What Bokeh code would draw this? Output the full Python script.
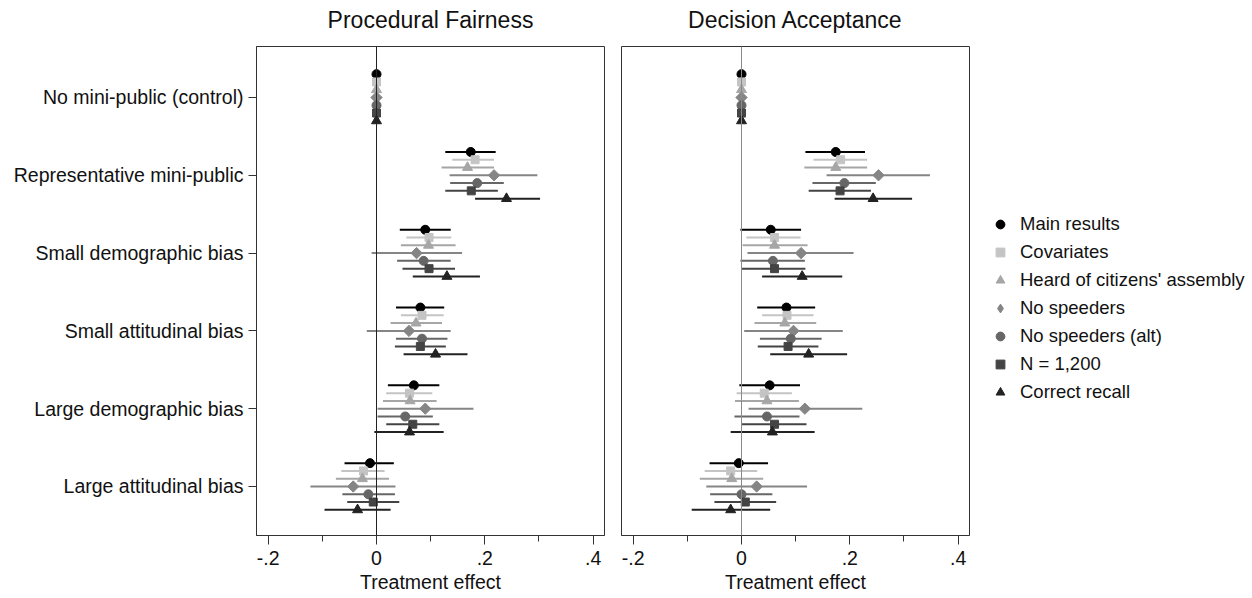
import math
from bokeh.plotting import figure
from bokeh.layouts import row
from bokeh.models import Range1d, FixedTicker, Span, Legend, LegendItem, Title
from bokeh.embed import file_html
from bokeh.resources import INLINE

# ---------------- data ----------------
categories = ["No mini-public (control)", "Representative mini-public",
              "Small demographic bias", "Small attitudinal bias",
              "Large demographic bias", "Large attitudinal bias"]
series = ["Main results", "Covariates", "Heard of citizens' assembly",
          "No speeders", "No speeders (alt)", "N = 1,200", "Correct recall"]
panel_titles = ["Procedural Fairness", "Decision Acceptance"]
x_ticks = [-0.2, 0.0, 0.2, 0.4]
x_tick_labels = ["-.2", "0", ".2", ".4"]
x_minor_ticks = [-0.1, 0.1, 0.3]

# Procedural fairness: rows = series, columns = categories
pf_est = [
    [0, 0.174, 0.090, 0.081, 0.069, -0.012],
    [0, 0.182, 0.097, 0.084, 0.061, -0.024],
    [0, 0.168, 0.096, 0.073, 0.062, -0.026],
    [0, 0.217, 0.074, 0.060, 0.090, -0.043],
    [0, 0.186, 0.087, 0.084, 0.053, -0.015],
    [0, 0.175, 0.097, 0.081, 0.067, -0.006],
    [0, 0.240, 0.130, 0.109, 0.061, -0.035],
]
pf_lo = [
    [0, 0.127, 0.043, 0.036, 0.021, -0.059],
    [0, 0.140, 0.055, 0.045, 0.018, -0.065],
    [0, 0.120, 0.045, 0.026, 0.012, -0.075],
    [0, 0.135, -0.009, -0.018, 0.002, -0.122],
    [0, 0.136, 0.038, 0.036, 0.002, -0.063],
    [0, 0.127, 0.048, 0.034, 0.018, -0.054],
    [0, 0.182, 0.067, 0.050, -0.004, -0.096],
]
pf_hi = [
    [0, 0.220, 0.137, 0.125, 0.116, 0.032],
    [0, 0.217, 0.138, 0.124, 0.103, 0.015],
    [0, 0.217, 0.146, 0.121, 0.111, 0.023],
    [0, 0.297, 0.158, 0.137, 0.179, 0.035],
    [0, 0.235, 0.137, 0.131, 0.104, 0.034],
    [0, 0.224, 0.145, 0.128, 0.116, 0.042],
    [0, 0.302, 0.191, 0.168, 0.124, 0.026],
]
# Decision acceptance
da_est = [
    [0, 0.174, 0.054, 0.083, 0.052, -0.005],
    [0, 0.183, 0.061, 0.084, 0.042, -0.020],
    [0, 0.174, 0.061, 0.080, 0.047, -0.018],
    [0, 0.253, 0.110, 0.096, 0.117, 0.028],
    [0, 0.190, 0.058, 0.091, 0.047, 0.000],
    [0, 0.182, 0.061, 0.086, 0.061, 0.007],
    [0, 0.243, 0.112, 0.124, 0.057, -0.020],
]
da_lo = [
    [0, 0.118, -0.002, 0.029, -0.004, -0.059],
    [0, 0.133, 0.009, 0.038, -0.009, -0.068],
    [0, 0.116, 0.002, 0.024, -0.012, -0.077],
    [0, 0.157, 0.011, 0.005, 0.013, -0.065],
    [0, 0.131, -0.002, 0.034, -0.013, -0.058],
    [0, 0.124, 0.001, 0.030, 0.001, -0.050],
    [0, 0.172, 0.038, 0.053, -0.020, -0.092],
]
da_hi = [
    [0, 0.228, 0.110, 0.136, 0.108, 0.049],
    [0, 0.232, 0.109, 0.133, 0.093, 0.029],
    [0, 0.232, 0.122, 0.138, 0.106, 0.040],
    [0, 0.348, 0.207, 0.187, 0.223, 0.121],
    [0, 0.248, 0.117, 0.148, 0.107, 0.057],
    [0, 0.239, 0.118, 0.142, 0.120, 0.064],
    [0, 0.315, 0.186, 0.195, 0.135, 0.053],
]

# ---------------- styles ----------------
FONT = "Liberation Sans"
colors = ["#000000", "#c4c4c4", "#a6a6a6", "#858585", "#666666", "#444444", "#222222"]
markers = ["circle", "square", "triangle", "square", "circle", "square", "triangle"]
legend_markers = ["circle", "square", "triangle", "diamond", "circle", "square", "triangle"]
sizes = [9, 8, 10, 8, 9, 8, 10]
angles = [0, 0, 0, math.pi / 4, 0, 0, 0]
step = 0.1

FRAME_W, FRAME_H = 348, 489
TOP, BOTTOM = 46, 63
X0, X1 = -0.2216, 0.421
Y_BOTTOM, Y_TOP = 5.63, -0.6555


def make_panel(title, est, lo, hi, first, zero_color):
    p = figure(frame_width=FRAME_W, frame_height=FRAME_H,
               min_border_top=TOP, min_border_bottom=BOTTOM,
               min_border_left=256 if first else 9,
               min_border_right=8 if first else 283,
               x_range=Range1d(X0, X1),
               y_range=Range1d(Y_BOTTOM, Y_TOP),
               output_backend="svg", toolbar_location=None)
    p.xgrid.visible = False
    p.ygrid.visible = False
    p.outline_line_color = "#333333"
    p.outline_line_width = 1
    p.background_fill_color = "white"
    p.border_fill_color = "white"

    # spacer between frame and title, then the panel title
    p.add_layout(Title(text=" ", text_font_size="10px", standoff=0), "above")
    p.add_layout(Title(text=title, align="center", text_font=FONT,
                       text_font_size="23px", text_font_style="normal",
                       text_color="#111111", standoff=2), "above")

    p.add_layout(Span(location=0, dimension="height", line_color=zero_color, line_width=1))

    legend_rends = []
    n_cat = len(categories)
    for k in range(len(series)):
        ys = [i - 0.3 + step * k for i in range(n_cat)]
        p.segment(x0=lo[k], y0=ys, x1=hi[k], y1=ys, line_color=colors[k],
                  line_width=2)
        r = p.scatter(x=est[k], y=ys, marker=markers[k], size=sizes[k],
                      angle=angles[k], fill_color=colors[k], line_color=colors[k])
        if legend_markers[k] != markers[k]:
            # legend-only glyph (legend swatches are drawn unrotated)
            r = p.scatter(x=[float("nan")], y=[float("nan")], marker=legend_markers[k],
                          size=sizes[k], fill_color=colors[k], line_color=colors[k])
        legend_rends.append(r)

    xa = p.xaxis[0]
    xa.ticker = FixedTicker(ticks=x_ticks, minor_ticks=x_minor_ticks)
    xa.major_label_overrides = {t: l for t, l in zip(x_ticks, x_tick_labels)}
    xa.axis_label = "Treatment effect"
    xa.axis_label_text_font = FONT
    xa.axis_label_text_font_size = "19.5px"
    xa.axis_label_text_font_style = "normal"
    xa.axis_label_text_color = "#111111"
    xa.axis_label_standoff = 3
    xa.major_label_text_font = FONT
    xa.major_label_text_font_size = "19.5px"
    xa.major_label_text_color = "#111111"
    xa.major_label_standoff = 6
    xa.major_tick_out = 9
    xa.major_tick_in = 0
    xa.minor_tick_out = 6
    xa.minor_tick_in = 0
    xa.axis_line_color = "#333333"
    xa.major_tick_line_color = "#333333"
    xa.minor_tick_line_color = "#333333"

    ya = p.yaxis[0]
    if first:
        ya.ticker = FixedTicker(ticks=list(range(len(categories))))
        ya.major_label_overrides = {i: c for i, c in enumerate(categories)}
        ya.major_label_text_font = FONT
        ya.major_label_text_font_size = "19.5px"
        ya.major_label_text_color = "#111111"
        ya.major_label_standoff = 5
        ya.major_tick_out = 8
        ya.major_tick_in = 0
        ya.minor_tick_line_color = None
        ya.axis_line_color = "#333333"
        ya.major_tick_line_color = "#333333"
    else:
        ya.visible = False
    return p, legend_rends


p1, _ = make_panel(panel_titles[0], pf_est, pf_lo, pf_hi, True, "#222222")
p2, rends = make_panel(panel_titles[1], da_est, da_lo, da_hi, False, "#8a8a8a")

legend = Legend(items=[LegendItem(label=s, renderers=[r]) for s, r in zip(series, rends)],
                location=(20, 132))
legend.border_line_color = None
legend.background_fill_alpha = 0
legend.padding = 0
legend.margin = 0
legend.spacing = 6
legend.glyph_width = 22
legend.glyph_height = 22
legend.label_height = 22
legend.label_standoff = 9
legend.label_text_font = FONT
legend.label_text_font_size = "18.5px"
legend.label_text_color = "#111111"
p2.add_layout(legend, "right")

layout = row(p1, p2)
open("out.html", "w").write(file_html(layout, INLINE))
